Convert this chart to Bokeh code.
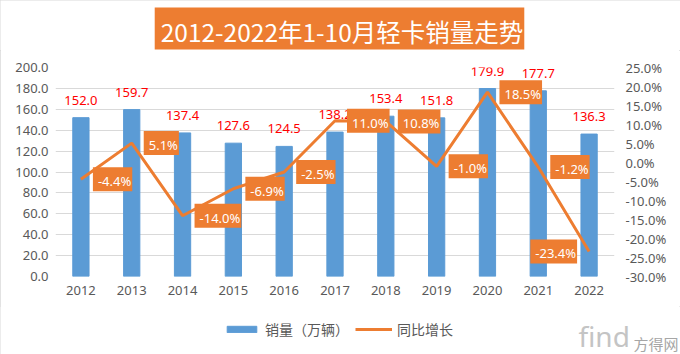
from bokeh.plotting import figure
from bokeh.layouts import column
from bokeh.models import (FactorRange, Range1d, LinearAxis, FixedTicker, PrintfTickFormatter,
                          Legend, LegendItem, Label)
from bokeh.embed import file_html
from bokeh.resources import INLINE
from bokeh.core.properties import value

# ---- data ----
years = ["2012", "2013", "2014", "2015", "2016", "2017", "2018", "2019", "2020", "2021", "2022"]
sales = [152.0, 159.7, 137.4, 127.6, 124.5, 138.2, 153.4, 151.8, 179.9, 177.7, 136.3]
growth = [-4.4, 5.1, -14.0, -6.9, -2.5, 11.0, 10.8, -1.0, 18.5, -1.2, -23.4]
sales_ticks = [0, 20, 40, 60, 80, 100, 120, 140, 160, 180, 200]
growth_ticks = [-30, -25, -20, -15, -10, -5, 0, 5, 10, 15, 20, 25]
series_names = ["销量（万辆）", "同比增长"]
title_text = "2012-2022年1-10月轻卡销量走势"
watermark = ["find", "方得网"]

BLUE = "#5B9BD5"
ORANGE = "#ED7D31"
GRAY = "#595959"
NUM_FONT = "Noto Sans"
CJK_FONT = "Noto Sans CJK SC"


def strip(height):
    f = figure(width=680, height=height, x_range=Range1d(0, 1), y_range=Range1d(0, 1),
               output_backend="svg", toolbar_location=None,
               x_axis_location=None, y_axis_location=None,
               min_border_left=0, min_border_right=0, min_border_top=0, min_border_bottom=0)
    f.grid.visible = False
    f.outline_line_color = None
    f.background_fill_color = "white"
    f.border_fill_color = "white"
    f.frame_align = False
    return f


# ---- title strip ----
p0 = strip(50)
p0.add_layout(Label(x=339, y=22, x_units="screen", y_units="screen", text=title_text,
                    text_align="center", text_baseline="middle", text_color="white",
                    text_font=CJK_FONT, text_font_size="24.5px",
                    background_fill_color=ORANGE, padding=(6, 1, 6, 1)))

# ---- main chart ----
p = figure(width=680, height=256, x_range=FactorRange(*years), y_range=Range1d(0, 200),
           output_backend="svg", toolbar_location=None,
           min_border_left=55, min_border_right=66, min_border_top=17, min_border_bottom=30)
p.frame_align = False
p.extra_y_ranges = {"pct": Range1d(-30, 25)}
p.outline_line_color = None
p.background_fill_color = "white"
p.border_fill_color = "white"

yl = p.yaxis[0]
yl.ticker = FixedTicker(ticks=sales_ticks)
yl.formatter = PrintfTickFormatter(format="%.1f")
xa = p.xaxis[0]
yr = LinearAxis(y_range_name="pct", ticker=FixedTicker(ticks=growth_ticks),
                formatter=PrintfTickFormatter(format="%.1f%%"))
p.add_layout(yr, "right")
for ax, st in ((yl, 7), (xa, 9), (yr, 11)):
    ax.axis_line_color = None
    ax.major_tick_line_color = None
    ax.minor_tick_line_color = None
    ax.major_tick_out = 0
    ax.major_tick_in = 0
    ax.major_label_standoff = st
    ax.major_label_text_font = NUM_FONT
    ax.major_label_text_font_size = "13px"
    ax.major_label_text_color = GRAY

p.xgrid.visible = False
p.ygrid.ticker = FixedTicker(ticks=sales_ticks)
p.ygrid.grid_line_color = "#D9D9D9"
p.ygrid.grid_line_width = 1

bars = p.vbar(x=years, top=sales, width=0.32, color=BLUE)
p.text(x=years, y=sales, text=[f"{v:.1f}" for v in sales], text_align="center",
       text_baseline="bottom", y_offset=-13, text_color="#FF0000",
       text_font=value(NUM_FONT), text_font_size="13px")

line = p.line(x=years, y=growth, y_range_name="pct", line_color=ORANGE, line_width=3)
# labels to the right of each point; the last one is put on the left so it stays inside the plot
n = len(years)
p.text(x=years[:n - 1], y=growth[:n - 1], y_range_name="pct",
       text=[f"{v:.1f}%" for v in growth[:n - 1]],
       text_align="left", text_baseline="middle", x_offset=12,
       text_color="white", text_font=value(NUM_FONT), text_font_size="13px",
       background_fill_color=ORANGE, padding=(5, 1, 5, 1))
p.text(x=years[n - 1:], y=growth[n - 1:], y_range_name="pct",
       text=[f"{v:.1f}%" for v in growth[n - 1:]],
       text_align="right", text_baseline="middle", x_offset=-12,
       text_color="white", text_font=value(NUM_FONT), text_font_size="13px",
       background_fill_color=ORANGE, padding=(5, 1, 5, 1))

# ---- legend strip ----
p2 = strip(48)
nan = float("nan")
lg_bar = p2.vbar(x=[nan], top=[nan], width=1, color=BLUE)
lg_line = p2.line(x=[nan, nan], y=[nan, nan], line_color=ORANGE, line_width=3)
legend = Legend(items=[LegendItem(label=series_names[0], renderers=[lg_bar]),
                       LegendItem(label=series_names[1], renderers=[lg_line])],
                orientation="horizontal", location=(223, 15),
                glyph_width=37, glyph_height=8, label_standoff=5, spacing=6,
                padding=0, margin=0, border_line_color=None, background_fill_alpha=0,
                label_text_font=CJK_FONT, label_text_font_size="14px",
                label_text_color=GRAY)
p2.add_layout(legend)
p2.add_layout(Label(x=578, y=0, x_units="screen", y_units="screen", text=watermark[0],
                    text_baseline="bottom", text_color="#C4C4C4", text_font=NUM_FONT,
                    text_font_size="28px"))
p2.add_layout(Label(x=633, y=1, x_units="screen", y_units="screen", text=watermark[1],
                    text_baseline="bottom", text_color="#A6A6A6", text_font=CJK_FONT,
                    text_font_size="15px"))

layout = column(p0, p, p2, spacing=0)
layout.styles = {"outline": "1px solid #D9D9D9", "outline-offset": "-1px"}
open("out.html", "w").write(file_html(layout, INLINE))
